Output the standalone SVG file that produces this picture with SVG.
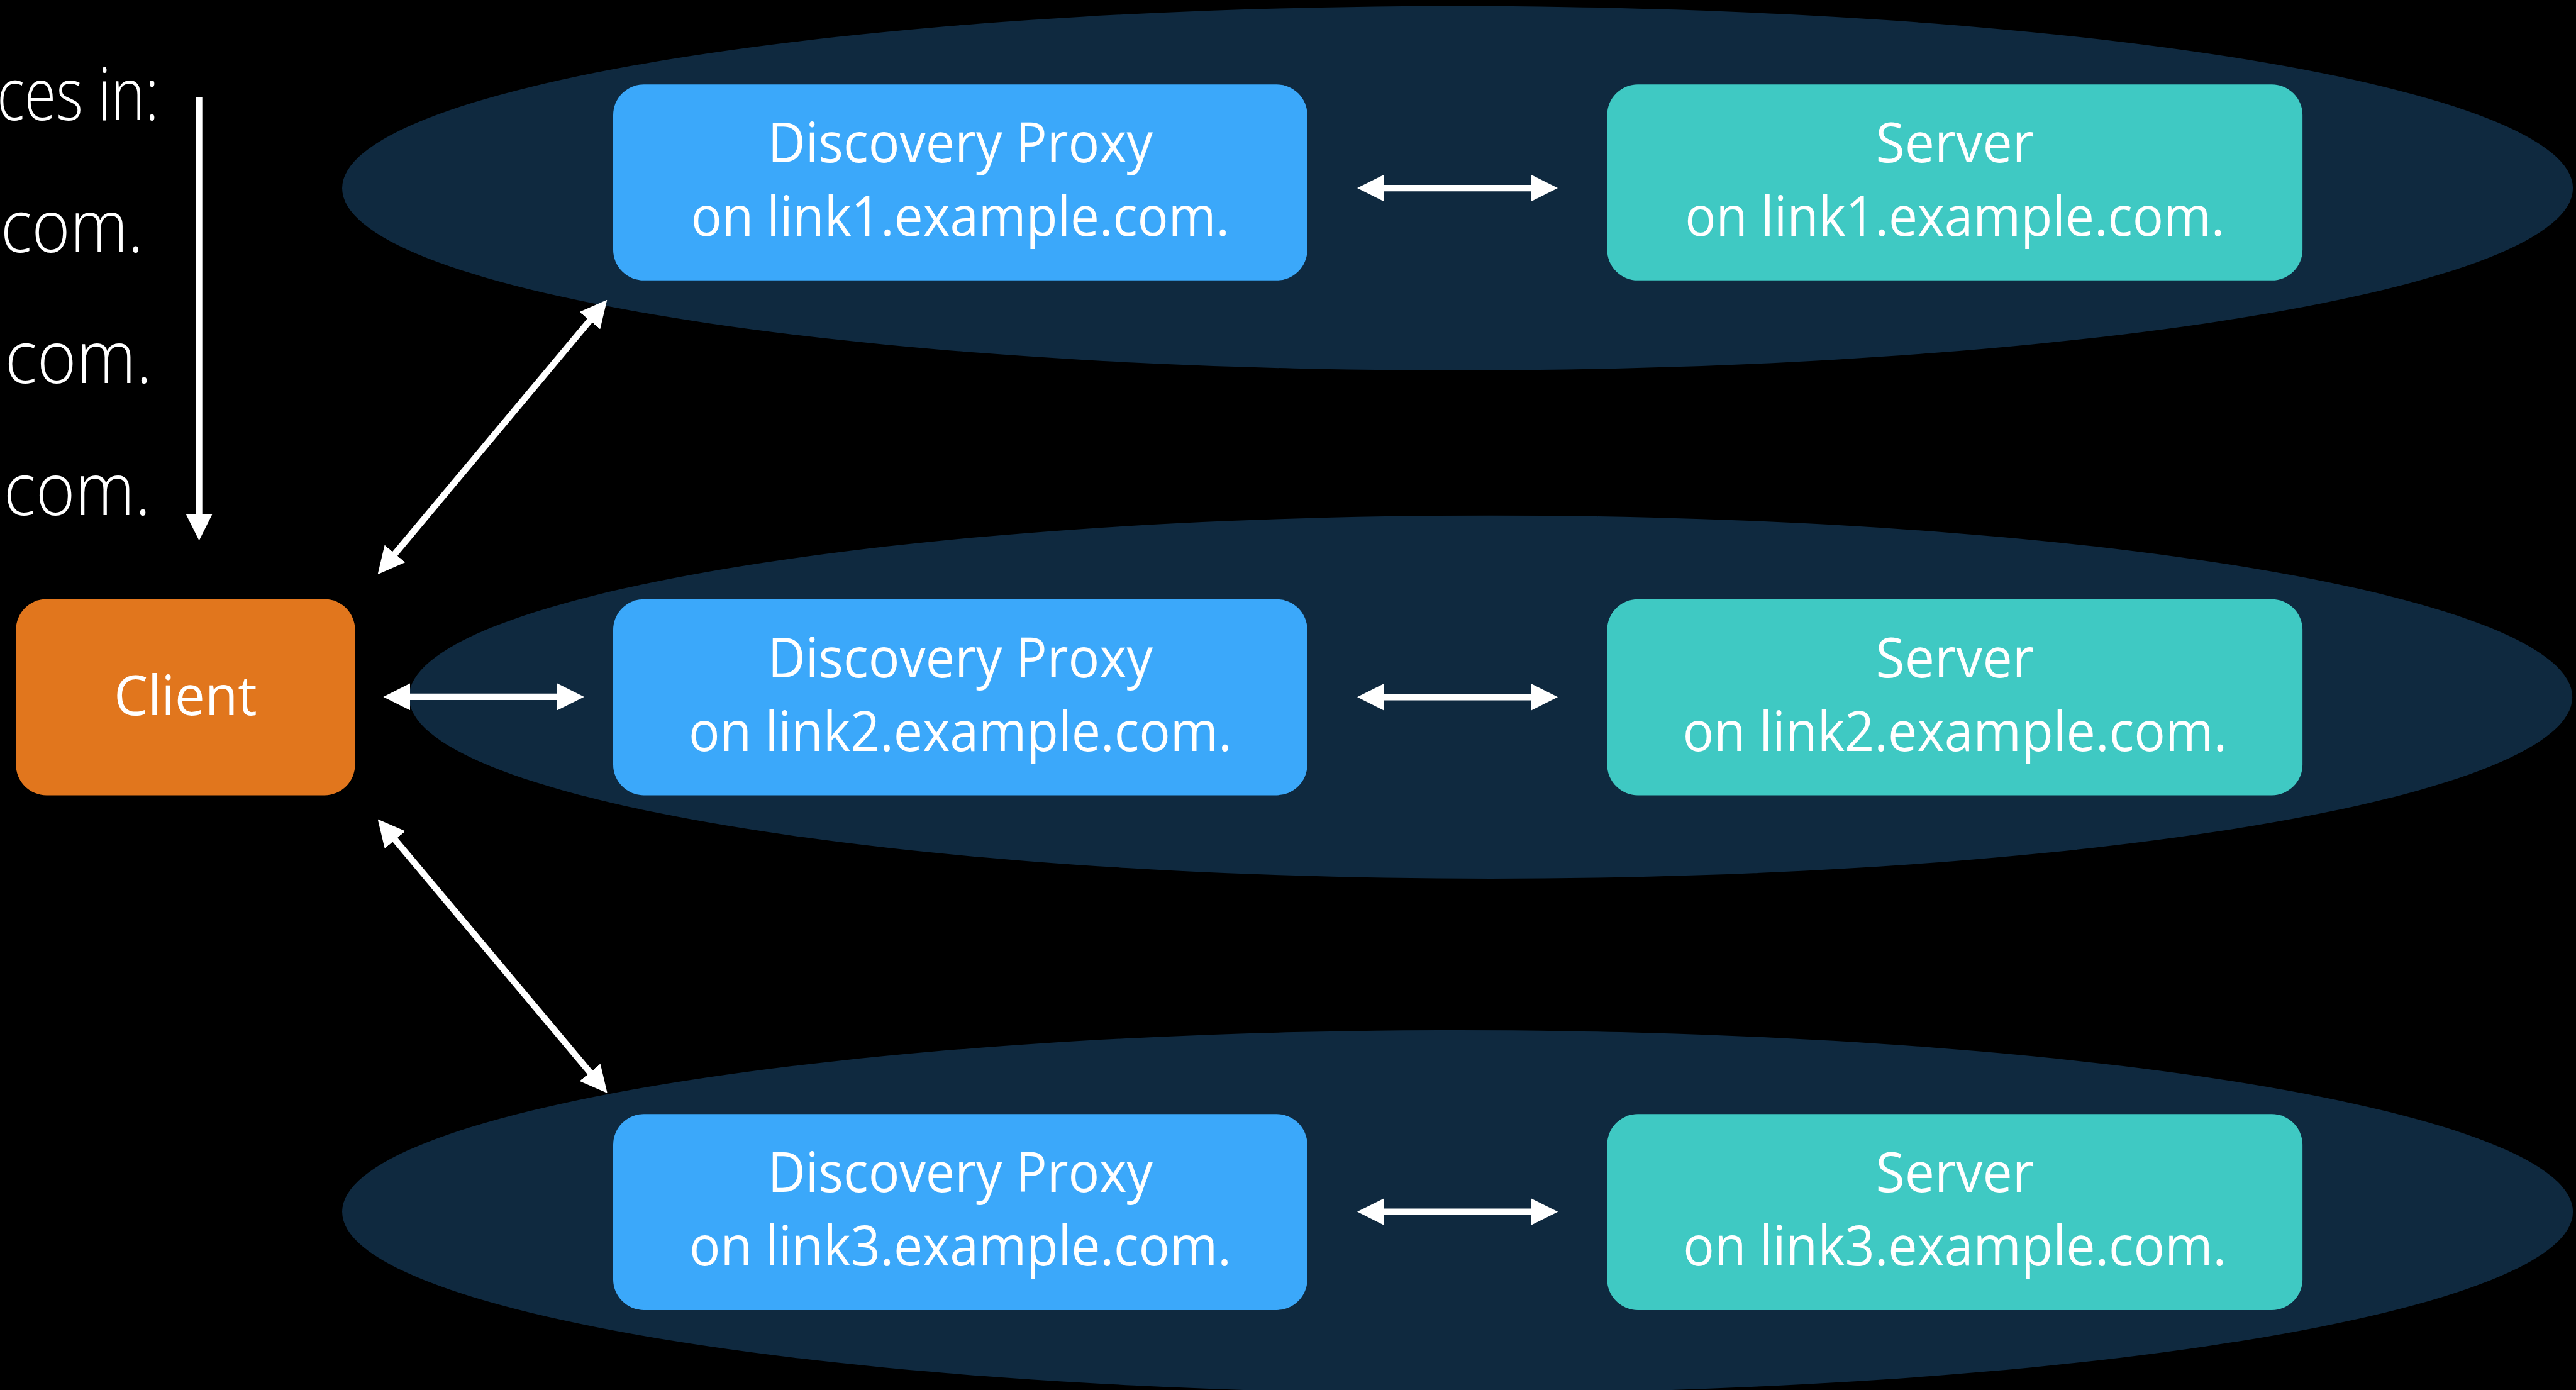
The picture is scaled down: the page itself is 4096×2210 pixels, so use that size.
<svg xmlns="http://www.w3.org/2000/svg" width="4096" height="2210" viewBox="0 0 4096 2210">
  <style>
    .zone { fill: #0F293F; }
    .proxy { fill: #3BA8FA; }
    .server { fill: #3FC9C3; }
    .client { fill: #E1761D; }
    .lbl { font-family: "Open Sans", "Liberation Sans", sans-serif; font-size: 90px; fill: #FFFFFF; text-anchor: middle; }
    .side { font-family: "Open Sans", "Liberation Sans", sans-serif; font-weight: 300; font-size: 120px; fill: #FFFFFF; text-anchor: end; }
    .wire { stroke: #FFFFFF; stroke-width: 10.5; fill: none; marker-end: url(#head); }
    .wire.both { marker-start: url(#head); }
  </style>
  <defs>
    <marker id="head" viewBox="0 0 44 44" refX="14" refY="22" markerWidth="44" markerHeight="44" markerUnits="userSpaceOnUse" orient="auto-start-reverse">
      <path d="M0,0 L44,22 L0,44 Z" fill="#FFFFFF"/>
    </marker>
  </defs>
  <rect width="4096" height="2210" fill="#000000"/>
  <g transform="scale(0.975)">
    <!-- link zones -->
    <g id="zones">
      <ellipse id="zone-link1" class="zone" cx="2377" cy="307" rx="1819" ry="297"/>
      <ellipse id="zone-link2" class="zone" cx="2431" cy="1136.7" rx="1764" ry="296"/>
      <ellipse id="zone-link3" class="zone" cx="2377" cy="1976" rx="1819" ry="296"/>
    </g>

    <!-- browse domain list on the left -->
    <g id="browse-list">
      <text class="side" x="259" y="196" textLength="264" lengthAdjust="spacingAndGlyphs">ces in:</text>
      <text class="side" x="234" y="411" textLength="233" lengthAdjust="spacingAndGlyphs">com.</text>
      <text class="side" x="248" y="625" textLength="240" lengthAdjust="spacingAndGlyphs">com.</text>
      <text class="side" x="246" y="840" textLength="240" lengthAdjust="spacingAndGlyphs">com.</text>
    </g>

    <!-- connectors -->
    <g id="connectors">
      <path class="wire" d="M324.7,158.3 L324.7,851.5"/>
      <path class="wire both" d="M635.2,913.7 L970.8,512"/>
      <path class="wire both" d="M655,1136.3 L922.7,1136.3"/>
      <path class="wire both" d="M635.3,1358.8 L971.2,1759.5"/>
      <path class="wire both" d="M2243.3,306.7 L2510.7,306.7"/>
      <path class="wire both" d="M2243.3,1136.7 L2510.7,1136.7"/>
      <path class="wire both" d="M2243.3,1976 L2510.7,1976"/>
    </g>

    <!-- client -->
    <g id="client">
      <rect class="client" x="26" y="977" width="553" height="320" rx="50" ry="50"/>
      <text class="lbl" x="302.5" y="1166" textLength="233" lengthAdjust="spacingAndGlyphs">Client</text>
    </g>

    <!-- discovery proxies -->
    <g id="proxy-link1">
      <rect class="proxy" x="1000" y="137.7" width="1132" height="319.6" rx="50" ry="50"/>
      <text class="lbl" x="1566" y="265" textLength="628" lengthAdjust="spacingAndGlyphs">Discovery Proxy</text>
      <text class="lbl" x="1566" y="385" textLength="878" lengthAdjust="spacingAndGlyphs">on link1.example.com.</text>
    </g>
    <g id="proxy-link2">
      <rect class="proxy" x="1000" y="977.2" width="1132" height="319.6" rx="50" ry="50"/>
      <text class="lbl" x="1566" y="1104.5" textLength="628" lengthAdjust="spacingAndGlyphs">Discovery Proxy</text>
      <text class="lbl" x="1566" y="1224.5" textLength="886" lengthAdjust="spacingAndGlyphs">on link2.example.com.</text>
    </g>
    <g id="proxy-link3">
      <rect class="proxy" x="1000" y="1816.7" width="1132" height="319.6" rx="50" ry="50"/>
      <text class="lbl" x="1566" y="1944" textLength="628" lengthAdjust="spacingAndGlyphs">Discovery Proxy</text>
      <text class="lbl" x="1566" y="2064" textLength="884" lengthAdjust="spacingAndGlyphs">on link3.example.com.</text>
    </g>

    <!-- servers -->
    <g id="server-link1">
      <rect class="server" x="2621" y="137.7" width="1134" height="319.6" rx="50" ry="50"/>
      <text class="lbl" x="3188" y="265" textLength="258" lengthAdjust="spacingAndGlyphs">Server</text>
      <text class="lbl" x="3188" y="385" textLength="880" lengthAdjust="spacingAndGlyphs">on link1.example.com.</text>
    </g>
    <g id="server-link2">
      <rect class="server" x="2621" y="977.2" width="1134" height="319.6" rx="50" ry="50"/>
      <text class="lbl" x="3188" y="1104.5" textLength="258" lengthAdjust="spacingAndGlyphs">Server</text>
      <text class="lbl" x="3188" y="1224.5" textLength="888" lengthAdjust="spacingAndGlyphs">on link2.example.com.</text>
    </g>
    <g id="server-link3">
      <rect class="server" x="2621" y="1816.7" width="1134" height="319.6" rx="50" ry="50"/>
      <text class="lbl" x="3188" y="1944" textLength="258" lengthAdjust="spacingAndGlyphs">Server</text>
      <text class="lbl" x="3188" y="2064" textLength="886" lengthAdjust="spacingAndGlyphs">on link3.example.com.</text>
    </g>
  </g>
</svg>
